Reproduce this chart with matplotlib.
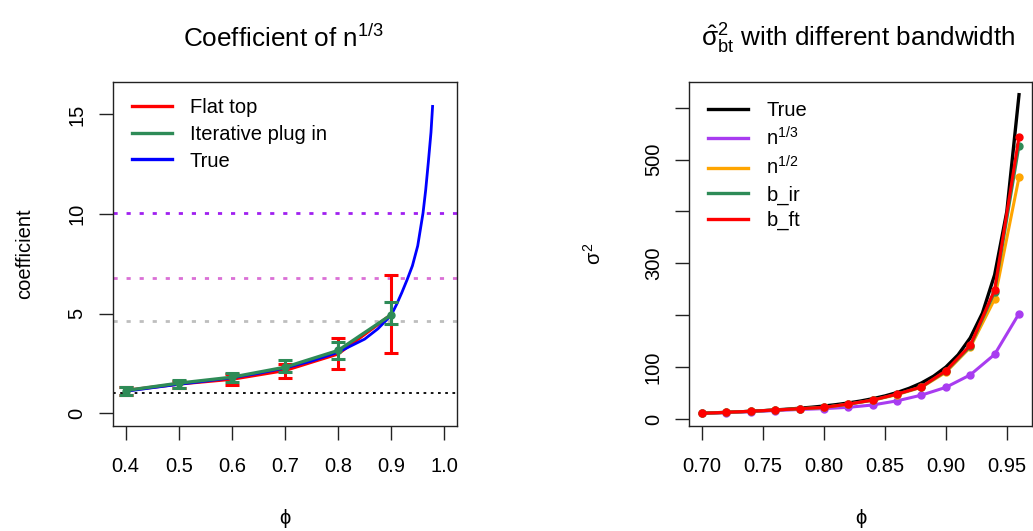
import matplotlib
matplotlib.use("Agg")
import matplotlib.pyplot as plt
from matplotlib.lines import Line2D

plt.rcParams['font.family'] = ['Liberation Sans', 'DejaVu Sans']
plt.rcParams['mathtext.fontset'] = 'custom'
plt.rcParams['mathtext.rm'] = 'Liberation Sans'
plt.rcParams['mathtext.it'] = 'Liberation Sans'
plt.rcParams['mathtext.bf'] = 'Liberation Sans:bold'

# ---------------- Left panel data ----------------
phi_pts = [0.4, 0.5, 0.6, 0.7, 0.8, 0.9]
ft_mean = [1.14, 1.47, 1.71, 2.15, 2.98, 4.95]
ft_lo = [0.94, 1.28, 1.43, 1.76, 2.23, 3.03]
ft_hi = [1.34, 1.64, 1.98, 2.48, 3.79, 6.93]
ir_mean = [1.14, 1.51, 1.81, 2.31, 3.15, 4.94]
ir_lo = [0.94, 1.28, 1.59, 2.06, 2.70, 4.47]
ir_hi = [1.34, 1.69, 2.03, 2.65, 3.57, 5.58]

phi_true = [0.40, 0.45, 0.50, 0.55, 0.60, 0.65, 0.70, 0.75, 0.80, 0.85, 0.875,
            0.90, 0.91, 0.92, 0.93, 0.94, 0.95, 0.96, 0.965, 0.97, 0.975, 0.978]
coef_true = [1.10, 1.28, 1.45, 1.61, 1.78, 2.00, 2.27, 2.62, 3.06, 3.72, 4.24,
             4.92, 5.45, 6.05, 6.70, 7.40, 8.40, 10.05, 11.2, 12.6, 14.1, 15.4]

hlines_vals = [1.0, 10.05, 6.78, 4.64]
hlines_cols = ['black', '#A020F0', '#DA70D6', '#BEBEBE']

left_legend = ['Flat top', 'Iterative plug in', 'True']

# ---------------- Right panel data ----------------
phi_r = [0.70, 0.72, 0.74, 0.76, 0.78, 0.80, 0.82, 0.84, 0.86, 0.88, 0.90, 0.92, 0.94, 0.96]
s_n13 = [10.6, 12.4, 14.2, 16.2, 18.3, 20.0, 22.5, 27.0, 35.0, 46.0, 61.0, 85.0, 124.5, 203.0]
s_n12 = [11.0, 12.8, 14.9, 17.2, 19.7, 22.2, 28.3, 36.0, 47.0, 61.0, 90.0, 138.0, 231.0, 466.0]
s_ir = [11.0, 12.9, 15.0, 17.3, 19.8, 22.4, 28.7, 36.4, 47.8, 61.8, 92.0, 140.0, 245.0, 527.0]
s_ft = [11.0, 12.9, 15.0, 17.3, 19.8, 22.4, 28.8, 36.5, 48.0, 62.0, 93.0, 142.0, 249.0, 544.0]

phi_rt = [0.70, 0.71, 0.72, 0.73, 0.74, 0.75, 0.76, 0.77, 0.78, 0.79, 0.80, 0.81, 0.82, 0.83,
          0.84, 0.85, 0.86, 0.87, 0.88, 0.89, 0.90, 0.91, 0.92, 0.93, 0.94, 0.95, 0.96]
s_true = [11.1, 11.9, 12.8, 13.7, 14.8, 16.0, 17.4, 18.9, 20.7, 22.7, 25.0, 27.7, 30.9, 34.6,
          39.1, 44.4, 51.0, 59.2, 69.4, 82.6, 100.0, 123.5, 156.3, 204.1, 277.8, 400.0, 625.0]

right_legend = ['True', r'$\mathrm{n}^{1/3}$', r'$\mathrm{n}^{1/2}$', 'b_ir', 'b_ft']
right_cols = ['black', '#A83CF0', '#FFA500', 'seagreen', 'red']

W, H = 1033, 531
fig = plt.figure(figsize=(W / 100, H / 100), dpi=100)

FS = 14.5
TFS = 18.8


def px_axes(x0, x1, y0, y1):
    return fig.add_axes([x0 / W, 1 - y1 / H, (x1 - x0) / W, (y1 - y0) / H])


axL = px_axes(113, 457, 81.7, 426)
axR = px_axes(689.3, 1031.7, 81.7, 426)

for ax in (axL, axR):
    for s in ax.spines.values():
        s.set_linewidth(1.0)
        s.set_color('#222222')
    ax.tick_params(axis='both', direction='out', length=10, width=1.0,
                   labelsize=FS, color='#222222')
    ax.tick_params(axis='x', pad=12)
    ax.tick_params(axis='y', pad=9)

# ---- Left panel ----
dot = (0, (1.5, 3.2))
for v, c in zip(hlines_vals, hlines_cols):
    lw = 1.3 if c == 'black' else 2.0
    axL.axhline(v, color=c, lw=lw, linestyle=dot if c != 'black' else (0, (1.5, 2.5)), zorder=1)

axL.plot(phi_pts, ft_mean, color='red', lw=2.4, zorder=3)
axL.errorbar(phi_pts, ft_mean,
             yerr=[[m - l for m, l in zip(ft_mean, ft_lo)], [h - m for m, h in zip(ft_mean, ft_hi)]],
             fmt='none', ecolor='red', elinewidth=2.2, capsize=5, capthick=2.2, zorder=3)
axL.plot(phi_true, coef_true, color='blue', lw=2.0, zorder=4)
axL.plot(phi_pts, ir_mean, color='seagreen', lw=2.4, marker='o', ms=5, zorder=5)
axL.errorbar(phi_pts, ir_mean,
             yerr=[[m - l for m, l in zip(ir_mean, ir_lo)], [h - m for m, h in zip(ir_mean, ir_hi)]],
             fmt='none', ecolor='seagreen', elinewidth=2.2, capsize=5, capthick=2.2, zorder=5)

axL.set_xlim(0.376, 1.024)
axL.set_ylim(-0.64, 16.64)
axL.set_xticks([0.4, 0.5, 0.6, 0.7, 0.8, 0.9, 1.0])
axL.set_xticklabels(['0.4', '0.5', '0.6', '0.7', '0.8', '0.9', '1.0'])
axL.set_yticks([0, 5, 10, 15])
axL.set_yticklabels(['0', '5', '10', '15'], rotation=90, va='center')
axL.set_ylabel('coefficient', fontsize=FS, labelpad=24)
axL.set_xlabel('ϕ', fontsize=FS, labelpad=24)
fig.text(284 / W, 1 - 46.7 / H, r'Coefficient of $\mathrm{n}^{1/3}$', fontsize=TFS,
         ha='center', va='baseline')

hL = [Line2D([], [], color='red', lw=2.4), Line2D([], [], color='seagreen', lw=2.4),
      Line2D([], [], color='blue', lw=2.4)]
axL.legend(hL, left_legend, loc='upper left', bbox_to_anchor=(0.054, 0.952), frameon=False,
           fontsize=FS, handlelength=2.0, handletextpad=0.9, labelspacing=0.38,
           borderpad=0, borderaxespad=0)

# ---- Right panel ----
axR.plot(phi_rt, s_true, color='black', lw=2.4, zorder=3)
for vals, c in zip([s_n13, s_n12, s_ir, s_ft], right_cols[1:]):
    axR.plot(phi_r, vals, color=c, lw=2.2, marker='o', ms=5, zorder=4)

axR.set_xlim(0.6896, 0.9704)
axR.set_ylim(-13.5, 650)
axR.set_xticks([0.70, 0.75, 0.80, 0.85, 0.90, 0.95])
axR.set_xticklabels(['0.70', '0.75', '0.80', '0.85', '0.90', '0.95'])
axR.set_yticks([0, 100, 200, 300, 400, 500, 600])
axR.set_yticklabels(['0', '100', '', '300', '', '500', ''], rotation=90, va='center')
axR.set_ylabel(r'$\sigma^2$', fontsize=FS, labelpad=28)
axR.set_xlabel('ϕ', fontsize=FS, labelpad=24)
fig.text(858 / W, 1 - 46.7 / H, r'$\hat{\sigma}_{\mathrm{bt}}^{2}$ with different bandwidth',
         fontsize=TFS, ha='center', va='baseline')

hR = [Line2D([], [], color=c, lw=2.4) for c in right_cols]
axR.legend(hR, right_legend, loc='upper left', bbox_to_anchor=(0.054, 0.945), frameon=False,
           fontsize=FS, handlelength=2.0, handletextpad=0.9, labelspacing=0.32,
           borderpad=0, borderaxespad=0)

fig.savefig('out.png', dpi=100)
